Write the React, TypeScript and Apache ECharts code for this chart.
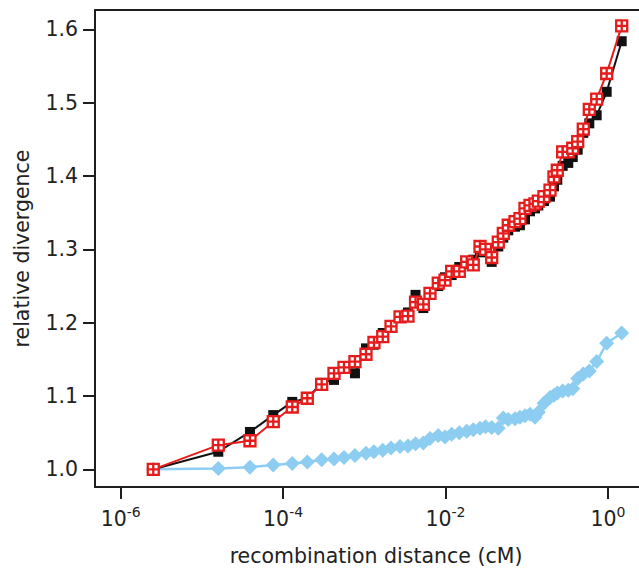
import React, { useEffect, useRef } from "react";
import * as echarts from "echarts";

// log10 of recombination distance (cM)
const logDistance = [
  -5.599, -4.798, -4.408, -4.121, -3.887, -3.702, -3.525, -3.373, -3.25, -3.115,
  -2.979, -2.881, -2.773, -2.671, -2.56, -2.462, -2.369, -2.273, -2.191, -2.089,
  -2.006, -1.924, -1.83, -1.739, -1.658, -1.575, -1.507, -1.431, -1.35, -1.288,
  -1.227, -1.144, -1.083, -1.021, -0.959, -0.898, -0.857, -0.787, -0.713, -0.664,
  -0.623, -0.557, -0.488, -0.433, -0.372, -0.303, -0.229, -0.138, -0.015, 0.17,
];

const blackValues = [
  1.0, 1.024, 1.051, 1.074, 1.092, 1.097, 1.118, 1.122, 1.137, 1.131,
  1.165, 1.17, 1.186, 1.193, 1.207, 1.214, 1.238, 1.22, 1.24, 1.25,
  1.262, 1.265, 1.276, 1.28, 1.286, 1.296, 1.3, 1.283, 1.304, 1.316,
  1.326, 1.331, 1.333, 1.341, 1.352, 1.356, 1.36, 1.366, 1.372, 1.386,
  1.395, 1.414, 1.418, 1.426, 1.436, 1.459, 1.472, 1.483, 1.515, 1.584,
];

const redValues = [
  1.0, 1.033, 1.039, 1.065, 1.085, 1.097, 1.116, 1.131, 1.139, 1.147,
  1.157, 1.173, 1.181, 1.195, 1.208, 1.209, 1.228, 1.225, 1.24, 1.254,
  1.258, 1.27, 1.27, 1.283, 1.279, 1.304, 1.3, 1.289, 1.31, 1.322,
  1.333, 1.338, 1.342, 1.356, 1.36, 1.362, 1.366, 1.372, 1.381, 1.399,
  1.408, 1.433, 1.433, 1.438, 1.447, 1.464, 1.491, 1.505, 1.54, 1.605,
];

const blueValues = [
  1.0, 1.001, 1.003, 1.006, 1.008, 1.01, 1.013, 1.014, 1.016, 1.019,
  1.022, 1.024, 1.026, 1.029, 1.031, 1.032, 1.035, 1.036, 1.042, 1.046,
  1.044, 1.048, 1.05, 1.052, 1.054, 1.056, 1.058, 1.057, 1.056, 1.07,
  1.068, 1.069, 1.071, 1.073, 1.075, 1.071, 1.078, 1.09, 1.098, 1.101,
  1.104, 1.107, 1.108, 1.11, 1.124, 1.13, 1.134, 1.147, 1.172, 1.186,
];

const yTicks = [1.0, 1.1, 1.2, 1.3, 1.4, 1.5, 1.6];
const xTickExponents = [-6, -4, -2, 0];

const X_MIN = -6.3165;
const X_MAX = 0.3831;
const Y_MIN = 0.9759;
const Y_MAX = 1.6266;

const FONT = "DejaVu Sans";
const TEXT = "#222";

function pairs(ys: number[]) {
  return logDistance.map((x, i) => [x, ys[i]]);
}

export default function App() {
  const ref = useRef<HTMLDivElement>(null);
  useEffect(() => {
    if (!ref.current) return;
    const chart = echarts.init(ref.current, undefined, { renderer: "svg" });
    const axisLine = { show: true, lineStyle: { color: "#1e1e1e", width: 2 } };
    chart.setOption({
      animation: false,
      backgroundColor: "#fff",
      grid: {
        left: 95,
        top: 10,
        right: 0,
        bottom: 86,
        containLabel: false,
        outerBoundsMode: "none",
      },
      xAxis: [
        {
          type: "value",
          position: "bottom",
          min: X_MIN,
          max: X_MAX,
          axisLine: { ...axisLine, onZero: false },
          axisTick: {
            show: true,
            inside: false,
            length: 12,
            lineStyle: { color: "#1e1e1e", width: 2 },
            customValues: xTickExponents,
          },
          axisLabel: {
            customValues: xTickExponents,
            margin: 18,
            formatter: (v: number) => `{b|10}{s|${Math.round(v)}}`,
            rich: {
              b: { fontFamily: FONT, fontSize: 20.5, color: TEXT, lineHeight: 28 },
              s: {
                fontFamily: FONT,
                fontSize: 14,
                color: TEXT,
                lineHeight: 14,
                verticalAlign: "top",
              },
            },
          },
          splitLine: { show: false },
          name: "recombination distance (cM)",
          nameLocation: "middle",
          nameGap: 58,
          nameTextStyle: {
            fontFamily: FONT,
            fontSize: 20.5,
            color: TEXT,
            padding: [0, 0, 0, 18],
          },
        },
        {
          type: "value",
          position: "top",
          min: X_MIN,
          max: X_MAX,
          axisLine: { ...axisLine, onZero: false },
          axisTick: { show: false },
          axisLabel: { show: false },
          splitLine: { show: false },
        },
      ],
      yAxis: {
        type: "value",
        min: Y_MIN,
        max: Y_MAX,
        axisLine: { ...axisLine, onZero: false },
        axisTick: {
          show: true,
          inside: false,
          length: 12,
          lineStyle: { color: "#1e1e1e", width: 2 },
          customValues: yTicks,
        },
        axisLabel: {
          customValues: yTicks,
          margin: 17,
          fontFamily: FONT,
          fontSize: 20.5,
          color: TEXT,
          formatter: (v: number) => v.toFixed(1),
        },
        splitLine: { show: false },
        name: "relative divergence",
        nameLocation: "middle",
        nameGap: 63,
        nameTextStyle: { fontFamily: FONT, fontSize: 20.5, color: TEXT },
      },
      series: [
        {
          type: "line",
          name: "blue",
          data: pairs(blueValues),
          symbol: "diamond",
          symbolSize: [15, 15],
          lineStyle: { color: "#8ccdf1", width: 2.5 },
          itemStyle: { color: "#8ccdf1" },
          z: 2,
        },
        {
          type: "line",
          name: "black",
          data: pairs(blackValues),
          symbol: "rect",
          symbolSize: 10,
          lineStyle: { color: "#111", width: 2 },
          itemStyle: { color: "#111" },
          z: 3,
        },
        {
          type: "line",
          name: "red",
          data: pairs(redValues),
          symbol: "path://M0,0H10V10H0Z M5,0V10 M0,5H10",
          symbolSize: 11,
          symbolKeepAspect: true,
          lineStyle: { color: "#e51c1c", width: 2 },
          itemStyle: { color: "#ffffff", borderColor: "#e51c1c", borderWidth: 2.3 },
          z: 4,
        },
      ],
    });
    return () => chart.dispose();
  }, []);
  return (
    <div
      ref={ref}
      style={{ position: "fixed", left: 0, top: 0, width: 639, height: 573 }}
    />
  );
}
